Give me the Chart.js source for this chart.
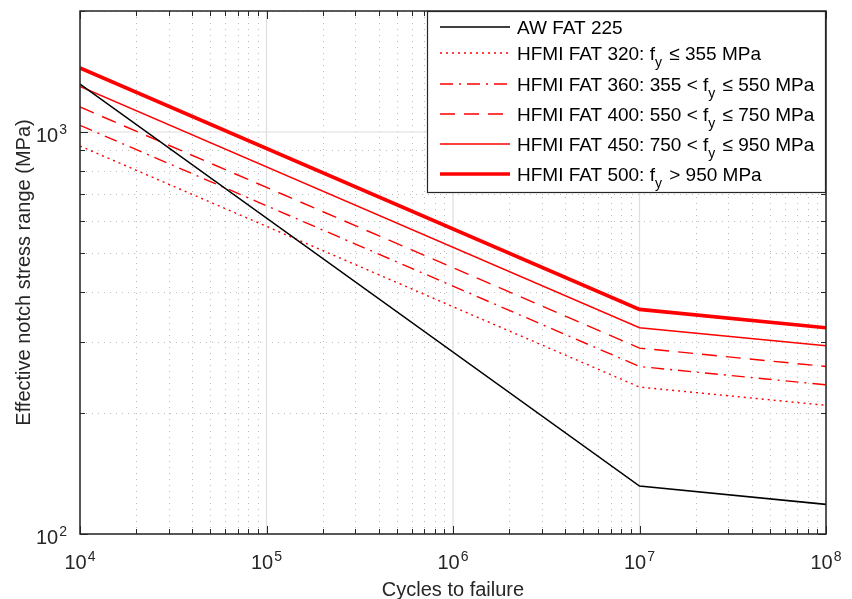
<!DOCTYPE html>
<html>
<head>
<meta charset="utf-8">
<script src="https://cdn.jsdelivr.net/npm/chart.js@4/dist/chart.umd.min.js"></script>
<style>
html,body{margin:0;padding:0;background:#fff;}
#wrap{width:852px;height:599px;}
</style>
</head>
<body>
<div id="wrap"><canvas id="c" width="852" height="599"></canvas></div>
<script>
// ---- data ----
const cycles   = [1e4, 1e7, 1e8];
const aw225    = [1316, 131.6, 118.5];
const hfmi320  = [923, 232, 209];
const hfmi360  = [1039, 261, 235];
const hfmi400  = [1154, 290, 261];
const hfmi450  = [1298, 326, 294];
const hfmi500  = [1443, 362, 326];
const seriesLabels = [
  "AW FAT 225",
  "HFMI FAT 320: f_y ≤ 355 MPa",
  "HFMI FAT 360: 355 < f_y ≤ 550 MPa",
  "HFMI FAT 400: 550 < f_y ≤ 750 MPa",
  "HFMI FAT 450: 750 < f_y ≤ 950 MPa",
  "HFMI FAT 500: f_y > 950 MPa"
];
const xTickExponents = [4, 5, 6, 7, 8];
const yTickExponents = [2, 3];
const xTitle = "Cycles to failure";
const yTitle = "Effective notch stress range (MPa)";

const seriesValues = [aw225, hfmi320, hfmi360, hfmi400, hfmi450, hfmi500];
const styles = [
  {color:'#000000', width:1.6, dash:[]},
  {color:'#ff0000', width:1.4, dash:[2,4]},
  {color:'#ff0000', width:1.4, dash:[13,6,2,6]},
  {color:'#ff0000', width:1.4, dash:[15,9]},
  {color:'#ff0000', width:1.4, dash:[]},
  {color:'#ff0000', width:3.6, dash:[]}
];

const datasets = seriesValues.map((vals, i) => ({
  label: seriesLabels[i],
  data: cycles.map((x, j) => ({x: x, y: vals[j]})),
  borderColor: styles[i].color,
  borderWidth: styles[i].width,
  borderDash: styles[i].dash,
  pointRadius: 0,
  fill: false,
  tension: 0
}));

const TXT = '#262626';
const FONT = '"Liberation Sans", Arial, Helvetica, sans-serif';

function minorVals(lo, hi) {
  const out = [];
  for (let e = Math.floor(Math.log10(lo)); e <= Math.ceil(Math.log10(hi)); e++) {
    for (let k = 1; k <= 9; k++) {
      const v = k * Math.pow(10, e);
      if (v >= lo - 1e-9 && v <= hi * 1.0000001) out.push({v: v, major: k === 1});
    }
  }
  return out;
}

const matlabPlugin = {
  id: 'matlabAxes',
  beforeDatasetsDraw(chart) {
    const ctx = chart.ctx, a = chart.chartArea;
    const xs = chart.scales.x, ys = chart.scales.y;
    ctx.save();
    // minor grid (dotted)
    ctx.lineWidth = 1;
    ctx.strokeStyle = '#bdbdbd';
    ctx.setLineDash([1, 5]);
    minorVals(xs.min, xs.max).forEach(t => {
      if (t.major) return;
      const p = Math.round(xs.getPixelForValue(t.v)) + 0.5;
      ctx.beginPath(); ctx.moveTo(p, a.top); ctx.lineTo(p, a.bottom); ctx.stroke();
    });
    minorVals(ys.min, ys.max).forEach(t => {
      if (t.major) return;
      const p = Math.round(ys.getPixelForValue(t.v)) + 0.5;
      ctx.beginPath(); ctx.moveTo(a.left, p); ctx.lineTo(a.right, p); ctx.stroke();
    });
    // major grid (solid light)
    ctx.setLineDash([]);
    ctx.strokeStyle = '#dedede';
    ctx.lineWidth = 1.2;
    minorVals(xs.min, xs.max).forEach(t => {
      if (!t.major) return;
      const p = xs.getPixelForValue(t.v);
      ctx.beginPath(); ctx.moveTo(p, a.top); ctx.lineTo(p, a.bottom); ctx.stroke();
    });
    minorVals(ys.min, ys.max).forEach(t => {
      if (!t.major) return;
      const p = ys.getPixelForValue(t.v);
      ctx.beginPath(); ctx.moveTo(a.left, p); ctx.lineTo(a.right, p); ctx.stroke();
    });
    ctx.restore();
  },
  afterDatasetsDraw(chart) {
    const ctx = chart.ctx, a = chart.chartArea;
    const xs = chart.scales.x, ys = chart.scales.y;
    ctx.save();
    ctx.strokeStyle = TXT;
    ctx.lineWidth = 1;
    ctx.setLineDash([]);
    // ticks (inward, all sides)
    minorVals(xs.min, xs.max).forEach(t => {
      const p = Math.round(xs.getPixelForValue(t.v)) + 0.5;
      const L = t.major ? 8 : 5;
      ctx.beginPath();
      ctx.moveTo(p, a.bottom); ctx.lineTo(p, a.bottom - L);
      ctx.moveTo(p, a.top); ctx.lineTo(p, a.top + L);
      ctx.stroke();
    });
    minorVals(ys.min, ys.max).forEach(t => {
      const p = Math.round(ys.getPixelForValue(t.v)) + 0.5;
      const L = t.major ? 8 : 5;
      ctx.beginPath();
      ctx.moveTo(a.left, p); ctx.lineTo(a.left + L, p);
      ctx.moveTo(a.right, p); ctx.lineTo(a.right - L, p);
      ctx.stroke();
    });
    // box
    ctx.lineWidth = 1.5;
    ctx.strokeRect(a.left, a.top, a.right - a.left, a.bottom - a.top);

    // tick labels
    ctx.fillStyle = TXT;
    ctx.textBaseline = 'alphabetic';
    const big = '20px ' + FONT, small = '14px ' + FONT;
    xTickExponents.forEach(e => {
      const p = xs.getPixelForValue(Math.pow(10, e));
      ctx.font = big; const w1 = ctx.measureText('10').width;
      ctx.font = small; const w2 = ctx.measureText(String(e)).width;
      const x0 = p - (w1 + w2 + 1) / 2;
      ctx.textAlign = 'left';
      ctx.font = big; ctx.fillText('10', x0, 569);
      ctx.font = small; ctx.fillText(String(e), x0 + w1 + 1, 561);
    });
    yTickExponents.forEach(e => {
      const p = ys.getPixelForValue(Math.pow(10, e));
      ctx.font = small; const w2 = ctx.measureText(String(e)).width;
      ctx.font = big; const w1 = ctx.measureText('10').width;
      const xr = a.left - 13;
      ctx.textAlign = 'left';
      ctx.font = big; ctx.fillText('10', xr - w2 - 1 - w1, p + 10);
      ctx.font = small; ctx.fillText(String(e), xr - w2, p + 2);
    });
    // axis titles
    ctx.font = big;
    ctx.textAlign = 'center';
    ctx.fillText(xTitle, (a.left + a.right) / 2, 596);
    ctx.save();
    ctx.translate(30, (a.top + a.bottom) / 2);
    ctx.rotate(-Math.PI / 2);
    ctx.fillText(yTitle, 0, 0);
    ctx.restore();

    // legend
    const lx0 = 427, ly0 = a.top, lx1 = a.right, ly1 = 193;
    ctx.fillStyle = '#ffffff';
    ctx.fillRect(lx0, ly0, lx1 - lx0, ly1 - ly0);
    ctx.strokeStyle = TXT;
    ctx.lineWidth = 1.2;
    ctx.strokeRect(lx0 + 0.5, ly0 + 0.5, lx1 - lx0 - 1, ly1 - ly0 - 1);
    const rowY = [27, 53, 84, 114, 144, 174];
    const lfont = '19px ' + FONT, sfont = '14px ' + FONT;
    chart.data.datasets.forEach((ds, i) => {
      const y = rowY[i];
      ctx.save();
      ctx.strokeStyle = ds.borderColor;
      ctx.lineWidth = ds.borderWidth;
      ctx.setLineDash(ds.borderDash || []);
      ctx.beginPath(); ctx.moveTo(440, y); ctx.lineTo(510, y); ctx.stroke();
      ctx.restore();
      ctx.fillStyle = '#000000';
      ctx.textAlign = 'left';
      const base = y + 7;
      let x = 517;
      const parts = ds.label.split('_');
      parts.forEach((part, k) => {
        let txt = part;
        if (k > 0) {
          const sub = part.charAt(0);
          txt = part.slice(1);
          ctx.font = sfont;
          ctx.fillText(sub, x, base + 7);
          x += ctx.measureText(sub).width + 2;
        }
        ctx.font = lfont;
        ctx.fillText(txt, x, base);
        x += ctx.measureText(txt).width;
      });
    });
    ctx.restore();
  }
};

new Chart(document.getElementById('c'), {
  type: 'line',
  data: { datasets: datasets },
  options: {
    responsive: false,
    animation: false,
    devicePixelRatio: 1,
    layout: { padding: { left: 80, top: 11, right: 26, bottom: 65 } },
    plugins: { legend: { display: false }, tooltip: { enabled: false } },
    scales: {
      x: { type: 'logarithmic', min: 1e4, max: 1e8, display: false },
      y: { type: 'logarithmic', min: 100, max: 2000, display: false }
    }
  },
  plugins: [matlabPlugin]
});
</script>
</body>
</html>
